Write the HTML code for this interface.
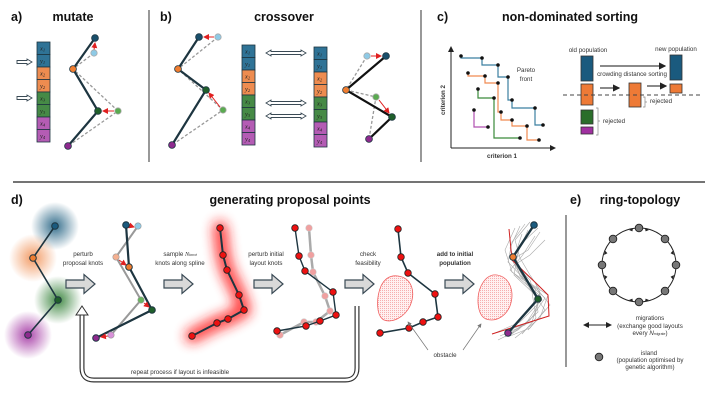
<!DOCTYPE html>
<html><head><meta charset="utf-8"><style>
html,body{margin:0;padding:0;background:#fff;}
svg{display:block;font-family:"Liberation Sans",sans-serif;}
.t{font-weight:bold;font-size:12.5px;fill:#111;}
.s{font-size:6.2px;fill:#333;}
.c{font-family:"Liberation Serif",serif;font-style:italic;font-size:6.5px;fill:#222;}
</style></head><body>
<svg width="714" height="402" viewBox="0 0 714 402" xmlns="http://www.w3.org/2000/svg">
<defs>
<radialGradient id="gb"><stop offset="0" stop-color="#1f5f80" stop-opacity="0.9"/><stop offset="1" stop-color="#1f5f80" stop-opacity="0"/></radialGradient>
<radialGradient id="go"><stop offset="0" stop-color="#f08a4b" stop-opacity="0.85"/><stop offset="1" stop-color="#f08a4b" stop-opacity="0"/></radialGradient>
<radialGradient id="gg"><stop offset="0" stop-color="#2e7d32" stop-opacity="0.9"/><stop offset="1" stop-color="#2e7d32" stop-opacity="0"/></radialGradient>
<radialGradient id="gp"><stop offset="0" stop-color="#a030a0" stop-opacity="0.9"/><stop offset="1" stop-color="#a030a0" stop-opacity="0"/></radialGradient>
<filter id="blur" x="-50%" y="-50%" width="200%" height="200%"><feGaussianBlur stdDeviation="6"/></filter>
<pattern id="dots" width="2" height="2" patternUnits="userSpaceOnUse"><rect width="2" height="2" fill="#fff0f0"/><rect width="0.8" height="0.8" fill="#f28a8a"/></pattern>
<marker id="ar" markerWidth="6" markerHeight="6" refX="5" refY="3" orient="auto"><path d="M0,0 L6,3 L0,6z" fill="#e02020"/></marker>
<marker id="ak" markerWidth="6" markerHeight="6" refX="5" refY="3" orient="auto"><path d="M0,0 L6,3 L0,6z" fill="#222"/></marker>
<marker id="aks" markerWidth="6" markerHeight="6" refX="1" refY="3" orient="auto"><path d="M6,0 L0,3 L6,6z" fill="#222"/></marker>
<marker id="ag" markerWidth="6" markerHeight="6" refX="5" refY="3" orient="auto"><path d="M0,0 L6,3 L0,6z" fill="#777"/></marker>
<g id="strip">
<rect x="0" y="0" width="13" height="12.5" fill="#2f7396" stroke="#1d3540" stroke-width="0.8"/>
<rect x="0" y="12.5" width="13" height="12.5" fill="#2f7396" stroke="#1d3540" stroke-width="0.8"/>
<rect x="0" y="25" width="13" height="12.5" fill="#ee8c50" stroke="#1d3540" stroke-width="0.8"/>
<rect x="0" y="37.5" width="13" height="12.5" fill="#ee8c50" stroke="#1d3540" stroke-width="0.8"/>
<rect x="0" y="50" width="13" height="12.5" fill="#468a46" stroke="#1d3540" stroke-width="0.8"/>
<rect x="0" y="62.5" width="13" height="12.5" fill="#468a46" stroke="#1d3540" stroke-width="0.8"/>
<rect x="0" y="75" width="13" height="12.5" fill="#b45cb4" stroke="#1d3540" stroke-width="0.8"/>
<rect x="0" y="87.5" width="13" height="12.5" fill="#b45cb4" stroke="#1d3540" stroke-width="0.8"/>
<text class="c" x="3" y="8.5">x<tspan font-size="4.5" dy="1">1</tspan></text>
<text class="c" x="3" y="21">y<tspan font-size="4.5" dy="1">1</tspan></text>
<text class="c" x="3" y="33.5">x<tspan font-size="4.5" dy="1">2</tspan></text>
<text class="c" x="3" y="46">y<tspan font-size="4.5" dy="1">2</tspan></text>
<text class="c" x="3" y="58.5">x<tspan font-size="4.5" dy="1">3</tspan></text>
<text class="c" x="3" y="71">y<tspan font-size="4.5" dy="1">3</tspan></text>
<text class="c" x="3" y="83.5">x<tspan font-size="4.5" dy="1">4</tspan></text>
<text class="c" x="3" y="96">y<tspan font-size="4.5" dy="1">4</tspan></text>
</g>
<g id="barr"><path d="M0,-4 H18 V-9.5 L29,0 L18,9.5 V4 H0Z" fill="#d9d9d9" stroke="#3a4a55" stroke-width="1.2"/></g>
<g id="darr"><path d="M0,0 L5,-3 V-1.5 H35 V-3 L40,0 L35,3 V1.5 H5 V3Z" fill="#fff" stroke="#3a4a55" stroke-width="0.9"/></g>
<g id="sarr"><path d="M0,-1.5 H10 V-3 L15,0 L10,3 V1.5 H0Z" fill="#fff" stroke="#3a4a55" stroke-width="0.9"/></g>
</defs>

<line x1="149" y1="10" x2="149" y2="162" stroke="#555" stroke-width="1.2"/>
<line x1="421" y1="10" x2="421" y2="162" stroke="#555" stroke-width="1.2"/>
<line x1="13" y1="182" x2="705" y2="182" stroke="#222" stroke-width="1.2"/>
<line x1="566" y1="215" x2="566" y2="367" stroke="#555" stroke-width="1.2"/>

<!-- a) -->
<text class="t" x="11" y="21">a)</text>
<text class="t" x="73" y="21" text-anchor="middle">mutate</text>
<use href="#strip" x="37" y="42"/>
<g transform="translate(17,62)"><use href="#sarr"/></g>
<g transform="translate(17,98)"><use href="#sarr"/></g>
<polyline points="94,53 73,69 118,111 68,146" fill="none" stroke="#999" stroke-width="1.3" stroke-dasharray="3,2"/>
<polyline points="95,38 73,69 98,111 68,146" fill="none" stroke="#1d3540" stroke-width="2.2"/>
<line x1="94" y1="50" x2="95" y2="43" stroke="#e02020" stroke-width="1" marker-end="url(#ar)"/>
<line x1="114" y1="111" x2="103" y2="111" stroke="#e02020" stroke-width="1" marker-end="url(#ar)"/>
<circle cx="94" cy="53" r="3.2" fill="#8ecae6" stroke="#aaa" stroke-width="0.8"/>
<circle cx="118" cy="111" r="3.2" fill="#5aaa50" stroke="#aaa" stroke-width="0.8"/>
<circle cx="95" cy="38" r="3.4" fill="#1a4f6b" stroke="#1d3540" stroke-width="0.8"/>
<circle cx="73" cy="69" r="3.4" fill="#f07d30" stroke="#1d3540" stroke-width="0.8"/>
<circle cx="98" cy="111" r="3.4" fill="#1f5f2a" stroke="#1d3540" stroke-width="0.8"/>
<circle cx="68" cy="146" r="3.4" fill="#8e2a8e" stroke="#1d3540" stroke-width="0.8"/>

<!-- b) -->
<text class="t" x="160" y="21">b)</text>
<text class="t" x="284" y="21" text-anchor="middle">crossover</text>
<polyline points="218,37 178,69 223,110 172,145" fill="none" stroke="#999" stroke-width="1.3" stroke-dasharray="3,2"/>
<polyline points="199,37 178,69 206,90 172,145" fill="none" stroke="#1d3540" stroke-width="2.2"/>
<line x1="214" y1="37" x2="204" y2="37" stroke="#e02020" stroke-width="1" marker-end="url(#ar)"/>
<line x1="220" y1="107" x2="209" y2="93" stroke="#e02020" stroke-width="1" marker-end="url(#ar)"/>
<circle cx="218" cy="37" r="3.2" fill="#8ecae6" stroke="#aaa" stroke-width="0.8"/>
<circle cx="223" cy="110" r="3.2" fill="#5aaa50" stroke="#aaa" stroke-width="0.8"/>
<circle cx="199" cy="37" r="3.4" fill="#1a4f6b" stroke="#1d3540" stroke-width="0.8"/>
<circle cx="178" cy="69" r="3.4" fill="#f07d30" stroke="#1d3540" stroke-width="0.8"/>
<circle cx="206" cy="90" r="3.4" fill="#1f5f2a" stroke="#1d3540" stroke-width="0.8"/>
<circle cx="172" cy="145" r="3.4" fill="#8e2a8e" stroke="#1d3540" stroke-width="0.8"/>
<use href="#strip" x="242" y="45"/>
<use href="#strip" x="314" y="47"/>
<g transform="translate(266,53)"><use href="#darr"/></g>
<g transform="translate(266,103)"><use href="#darr"/></g>
<g transform="translate(266,116)"><use href="#darr"/></g>
<polyline points="367,56 346,90 376,97 369,139" fill="none" stroke="#999" stroke-width="1.3" stroke-dasharray="3,2"/>
<polyline points="386,56 346,90 392,117 369,139" fill="none" stroke="#111" stroke-width="2.2"/>
<line x1="371" y1="56" x2="381" y2="56" stroke="#e02020" stroke-width="1" marker-end="url(#ar)"/>
<line x1="379" y1="100" x2="389" y2="113" stroke="#e02020" stroke-width="1" marker-end="url(#ar)"/>
<circle cx="367" cy="56" r="3.2" fill="#8ecae6" stroke="#aaa" stroke-width="0.8"/>
<circle cx="376" cy="97" r="3.2" fill="#5aaa50" stroke="#aaa" stroke-width="0.8"/>
<circle cx="386" cy="56" r="3.4" fill="#1a4f6b" stroke="#1d3540" stroke-width="0.8"/>
<circle cx="346" cy="90" r="3.4" fill="#f07d30" stroke="#1d3540" stroke-width="0.8"/>
<circle cx="392" cy="117" r="3.4" fill="#1f5f2a" stroke="#1d3540" stroke-width="0.8"/>
<circle cx="369" cy="139" r="3.4" fill="#8e2a8e" stroke="#1d3540" stroke-width="0.8"/>

<!-- c) -->
<text class="t" x="437" y="21">c)</text>
<text class="t" x="570" y="21" text-anchor="middle">non-dominated sorting</text>
<line x1="451" y1="148" x2="451" y2="47" stroke="#222" stroke-width="1" marker-end="url(#ak)"/>
<line x1="451" y1="148" x2="555" y2="148" stroke="#222" stroke-width="1" marker-end="url(#ak)"/>
<text class="s" x="445" y="100" transform="rotate(-90 445 100)" text-anchor="middle" font-weight="bold">criterion 2</text>
<text class="s" x="502" y="158" text-anchor="middle" font-weight="bold">criterion 1</text>
<polyline points="461,56 461,58 482,58 482,65 498,65 498,77 508,77 508,100 512,100 512,108 535,108 535,125 543,125" fill="none" stroke="#3b7fa0" stroke-width="1.2"/>
<polyline points="468,73 468,76 485,76 485,83 498,83 498,112 501,112 501,120 512,120 512,126 527,126 527,140 539,140" fill="none" stroke="#f08a50" stroke-width="1.2"/>
<polyline points="478,89 478,98 494,98 494,138 520,138" fill="none" stroke="#3a8a3a" stroke-width="1.2"/>
<polyline points="474,110 474,127 488,127" fill="none" stroke="#b050b0" stroke-width="1.2"/>
<g fill="#111">
<circle cx="461" cy="56" r="1.8"/><circle cx="482" cy="58" r="1.8"/><circle cx="498" cy="65" r="1.8"/><circle cx="508" cy="77" r="1.8"/><circle cx="512" cy="100" r="1.8"/><circle cx="535" cy="108" r="1.8"/><circle cx="543" cy="125" r="1.8"/>
<circle cx="468" cy="73" r="1.8"/><circle cx="485" cy="76" r="1.8"/><circle cx="498" cy="83" r="1.8"/><circle cx="501" cy="112" r="1.8"/><circle cx="512" cy="120" r="1.8"/><circle cx="527" cy="126" r="1.8"/><circle cx="539" cy="140" r="1.8"/>
<circle cx="478" cy="89" r="1.8"/><circle cx="494" cy="98" r="1.8"/><circle cx="520" cy="138" r="1.8"/>
<circle cx="474" cy="110" r="1.8"/><circle cx="488" cy="127" r="1.8"/>
</g>
<text class="s" x="526" y="72" text-anchor="middle">Pareto</text>
<text class="s" x="526" y="81" text-anchor="middle">front</text>
<text class="s" x="588" y="52" text-anchor="middle">old population</text>
<text class="s" x="676" y="51" text-anchor="middle">new population</text>
<rect x="581" y="56" width="12" height="25" fill="#1a5a7e" stroke="#333" stroke-width="0.8"/>
<rect x="581" y="84" width="12" height="21" fill="#ee7a36" stroke="#333" stroke-width="0.8"/>
<rect x="581" y="110" width="12" height="14" fill="#2a6e2a" stroke="#333" stroke-width="0.8"/>
<rect x="581" y="127" width="12" height="7" fill="#a030a0" stroke="#333" stroke-width="0.8"/>
<rect x="670" y="55" width="12" height="25" fill="#1a5a7e" stroke="#333" stroke-width="0.8"/>
<rect x="670" y="84" width="12" height="9" fill="#ee7a36" stroke="#333" stroke-width="0.8"/>
<rect x="629" y="83" width="12" height="24" fill="#ee7a36" stroke="#333" stroke-width="0.8"/>
<line x1="600" y1="66" x2="665" y2="66" stroke="#444" stroke-width="1.2" marker-end="url(#ak)"/>
<text class="s" x="632" y="76" text-anchor="middle" font-size="5">crowding distance sorting</text>
<line x1="600" y1="88" x2="619" y2="88" stroke="#444" stroke-width="1.2" marker-end="url(#ak)"/>
<line x1="647" y1="86" x2="666" y2="86" stroke="#444" stroke-width="1.2" marker-end="url(#ak)"/>
<line x1="563" y1="95" x2="700" y2="95" stroke="#444" stroke-width="1" stroke-dasharray="4,3"/>
<path d="M643,97 h2 v10 h-2 M645,102 h2" fill="none" stroke="#888" stroke-width="0.7"/>
<text class="s" x="650" y="103" font-size="5">rejected</text>
<path d="M596,108 h2 v27 h-2 M598,121 h2" fill="none" stroke="#888" stroke-width="0.7"/>
<text class="s" x="603" y="123" font-size="5">rejected</text>

<!-- d) -->
<text class="t" x="11" y="204">d)</text>
<text class="t" x="290" y="204" text-anchor="middle">generating proposal points</text>
<circle cx="55" cy="226" r="24" fill="url(#gb)"/>
<circle cx="33" cy="258" r="24" fill="url(#go)"/>
<circle cx="58" cy="300" r="24" fill="url(#gg)"/>
<circle cx="28" cy="335" r="24" fill="url(#gp)"/>
<polyline points="55,226 33,258 58,300 28,335" fill="none" stroke="#1d3540" stroke-width="1.6"/>
<circle cx="55" cy="226" r="3.3" fill="#1a5a7e" stroke="#1d3540"/>
<circle cx="33" cy="258" r="3.3" fill="#f07d30" stroke="#1d3540"/>
<circle cx="58" cy="300" r="3.3" fill="#1f5f2a" stroke="#1d3540"/>
<circle cx="28" cy="335" r="3.3" fill="#8e2a8e" stroke="#1d3540"/>

<text class="s" x="83" y="256" text-anchor="middle">perturb</text>
<text class="s" x="83" y="265" text-anchor="middle">proposal knots</text>
<g transform="translate(66,284)"><use href="#barr"/></g>

<polyline points="138,226 116,257 141,300 111,335" fill="none" stroke="#999" stroke-width="2"/>
<polyline points="126,225 129,267 152,310 96,338" fill="none" stroke="#1d3540" stroke-width="2.2"/>
<line x1="131" y1="226" x2="134" y2="227" stroke="#e02020" stroke-width="1" marker-end="url(#ar)"/>
<line x1="119" y1="260" x2="126" y2="265" stroke="#e02020" stroke-width="1" marker-end="url(#ar)"/>
<line x1="144" y1="303" x2="149" y2="307" stroke="#e02020" stroke-width="1" marker-end="url(#ar)"/>
<line x1="108" y1="336" x2="101" y2="337" stroke="#e02020" stroke-width="1" marker-end="url(#ar)"/>
<circle cx="138" cy="226" r="3.2" fill="#8ecae6" stroke="#999" stroke-width="0.6"/>
<circle cx="116" cy="257" r="3.2" fill="#f5b090" stroke="#999" stroke-width="0.6"/>
<circle cx="141" cy="300" r="3.2" fill="#6ab460" stroke="#999" stroke-width="0.6"/>
<circle cx="111" cy="335" r="3.2" fill="#d890d8" stroke="#999" stroke-width="0.6"/>
<circle cx="126" cy="225" r="3.3" fill="#1a5a7e" stroke="#1d3540"/>
<circle cx="129" cy="267" r="3.3" fill="#f07d30" stroke="#1d3540"/>
<circle cx="152" cy="310" r="3.3" fill="#1f5f2a" stroke="#1d3540"/>
<circle cx="96" cy="338" r="3.3" fill="#8e2a8e" stroke="#1d3540"/>

<text class="s" x="180" y="256" text-anchor="middle">sample <tspan font-family="Liberation Serif" font-style="italic">N</tspan><tspan font-size="4" font-style="italic">knot</tspan></text>
<text class="s" x="180" y="265" text-anchor="middle">knots along spline</text>
<g transform="translate(164,284)"><use href="#barr"/></g>

<polyline points="220,228 223,255 227,270 239,295 244,310 228,319 217,323 192,336" fill="none" stroke="#ff1a1a" stroke-width="14" stroke-linejoin="round" stroke-linecap="round" filter="url(#blur)" opacity="0.85"/>
<polyline points="220,228 223,255 227,270 239,295 244,310 228,319 217,323 192,336" fill="none" stroke="#1d3540" stroke-width="2"/>
<g fill="#ee1111" stroke="#222" stroke-width="0.8">
<circle cx="220" cy="228" r="3.3"/><circle cx="223" cy="255" r="3.3"/><circle cx="227" cy="270" r="3.3"/><circle cx="239" cy="295" r="3.3"/><circle cx="244" cy="310" r="3.3"/><circle cx="228" cy="319" r="3.3"/><circle cx="217" cy="323" r="3.3"/><circle cx="192" cy="336" r="3.3"/>
</g>

<text class="s" x="266" y="256" text-anchor="middle">perturb initial</text>
<text class="s" x="266" y="265" text-anchor="middle">layout knots</text>
<g transform="translate(254,284)"><use href="#barr"/></g>

<polyline points="309,228 311,255 313,272 325,296 330,311 316,322 304,322 280,335" fill="none" stroke="#aaa" stroke-width="2.5"/>
<g fill="#f0a0a0" stroke="#ccc" stroke-width="0.6">
<circle cx="309" cy="228" r="3.3"/><circle cx="311" cy="255" r="3.3"/><circle cx="313" cy="272" r="3.3"/><circle cx="325" cy="296" r="3.3"/><circle cx="330" cy="311" r="3.3"/><circle cx="316" cy="322" r="3.3"/><circle cx="304" cy="322" r="3.3"/><circle cx="280" cy="335" r="3.3"/>
</g>
<polyline points="295,228 299,256 305,271 333,292 336,315 320,321 306,326 277,331" fill="none" stroke="#1d3540" stroke-width="1.4"/>
<g fill="#ee1111" stroke="#222" stroke-width="0.8">
<circle cx="295" cy="228" r="3.3"/><circle cx="299" cy="256" r="3.3"/><circle cx="305" cy="271" r="3.3"/><circle cx="333" cy="292" r="3.3"/><circle cx="336" cy="315" r="3.3"/><circle cx="320" cy="321" r="3.3"/><circle cx="306" cy="326" r="3.3"/><circle cx="277" cy="331" r="3.3"/>
</g>

<text class="s" x="368" y="256" text-anchor="middle">check</text>
<text class="s" x="368" y="265" text-anchor="middle">feasibility</text>
<g transform="translate(345,284)"><use href="#barr"/></g>

<path d="M398,276 C412,278 416,292 410,306 C404,318 392,323 384,320 C376,316 376,298 381,286 C385,278 391,275 398,276Z" fill="url(#dots)" stroke="#f06060" stroke-width="0.8"/>
<polyline points="398,229 401,257 408,273 435,294 438,317 423,322 409,328 380,333" fill="none" stroke="#1d3540" stroke-width="1.6"/>
<g fill="#ee1111" stroke="#222" stroke-width="0.8">
<circle cx="398" cy="229" r="3.3"/><circle cx="401" cy="257" r="3.3"/><circle cx="408" cy="273" r="3.3"/><circle cx="435" cy="294" r="3.3"/><circle cx="438" cy="317" r="3.3"/><circle cx="423" cy="322" r="3.3"/><circle cx="409" cy="328" r="3.3"/><circle cx="380" cy="333" r="3.3"/>
</g>
<line x1="428" y1="350" x2="408" y2="322" stroke="#777" stroke-width="0.7" marker-end="url(#ag)"/>
<line x1="463" y1="350" x2="481" y2="324" stroke="#777" stroke-width="0.7" marker-end="url(#ag)"/>
<text class="s" x="445" y="357" text-anchor="middle">obstacle</text>

<text class="s" x="455" y="256" text-anchor="middle" font-weight="bold">add to initial</text>
<text class="s" x="455" y="265" text-anchor="middle" font-weight="bold">population</text>
<g transform="translate(445,284)"><use href="#barr"/></g>

<path d="M497,275 C510,277 515,292 510,306 C505,318 494,322 486,319 C477,315 476,297 481,286 C485,278 490,274 497,275Z" fill="url(#dots)" stroke="#f06060" stroke-width="0.8"/>
<g fill="none" stroke="#aaa" stroke-width="0.6">
<polyline points="530,222 515,240 520,258 530,275 540,290 535,315 512,334"/>
<polyline points="525,224 512,242 508,262 525,280 545,298 530,320 505,337"/>
<polyline points="538,228 520,245 515,265 535,282 542,300 520,322 495,333"/>
<polyline points="520,226 510,248 518,268 530,280 538,305 525,325 500,336"/>
<polyline points="540,232 528,250 512,260 522,278 548,295 540,318 515,338"/>
<polyline points="515,228 505,250 512,272 535,288 538,312 518,330 498,340"/>
<polyline points="535,236 522,256 510,270 528,286 545,310 530,328 510,336"/>
<polyline points="528,230 518,252 514,275 532,292 536,318 522,334"/>
<polyline points="545,240 530,255 516,264 526,283 540,296 532,322 508,330"/>
<polyline points="522,234 514,258 520,276 538,290 550,305 528,330"/>
</g>
<polyline points="509,229 512,260 540,287 548,295 549,316 492,334" fill="none" stroke="#d02020" stroke-width="1"/>
<polyline points="534,225 513,257 538,299 508,333" fill="none" stroke="#1d3540" stroke-width="2.4"/>
<circle cx="534" cy="225" r="3.3" fill="#1a5a7e" stroke="#1d3540"/>
<circle cx="513" cy="257" r="3.3" fill="#f07d30" stroke="#1d3540"/>
<circle cx="538" cy="299" r="3.3" fill="#1f5f2a" stroke="#1d3540"/>
<circle cx="508" cy="333" r="3.3" fill="#8e2a8e" stroke="#1d3540"/>

<!-- feedback loop -->
<path d="M357,305 V368 Q357,380 345,380 H94 Q82,380 82,368 V314" fill="none" stroke="#333" stroke-width="5"/>
<path d="M357,305 V368 Q357,380 345,380 H94 Q82,380 82,368 V314" fill="none" stroke="#fff" stroke-width="2.6"/>
<path d="M76,315 L82,306 L88,315Z" fill="#fff" stroke="#333" stroke-width="1"/>
<rect x="354" y="303" width="6" height="3" fill="#fff"/>
<text class="s" x="180" y="374" text-anchor="middle">repeat process if layout is infeasible</text>

<!-- e) -->
<text class="t" x="570" y="204">e)</text>
<text class="t" x="640" y="204" text-anchor="middle">ring-topology</text>
<circle cx="639" cy="265" r="37" fill="none" stroke="#222" stroke-width="1"/>
<g fill="#222">
<path d="M629,230 l4,-1.8 l-0.6,3.2z"/><path d="M649,230 l-4,-1.8 l0.6,3.2z"/>
<path d="M604,255 l1.2,-4.2 l2.2,2.4z"/><path d="M604,275 l1.2,4.2 l2.2,-2.4z"/>
<path d="M674,255 l-1.2,-4.2 l-2.2,2.4z"/><path d="M674,275 l-1.2,4.2 l-2.2,-2.4z"/>
<path d="M629,300 l4,1.8 l-0.6,-3.2z"/><path d="M649,300 l-4,1.8 l0.6,-3.2z"/>
</g>
<g fill="#777" stroke="#222" stroke-width="0.9">
<circle cx="639" cy="228" r="3.8"/><circle cx="613" cy="239" r="3.8"/><circle cx="602" cy="265" r="3.8"/><circle cx="613" cy="291" r="3.8"/><circle cx="639" cy="302" r="3.8"/><circle cx="665" cy="291" r="3.8"/><circle cx="676" cy="265" r="3.8"/><circle cx="665" cy="239" r="3.8"/>
</g>
<line x1="584" y1="325" x2="611" y2="325" stroke="#222" stroke-width="1" marker-end="url(#ak)" marker-start="url(#aks)"/>
<text class="s" x="650" y="320" text-anchor="middle">migrations</text>
<text class="s" x="650" y="328" text-anchor="middle" font-size="4.8">(exchange good layouts</text>
<text class="s" x="650" y="335" text-anchor="middle" font-size="4.8">every <tspan font-style="italic">N</tspan><tspan font-size="3.5">migrate</tspan>)</text>
<circle cx="599" cy="357" r="3.8" fill="#777" stroke="#222" stroke-width="0.9"/>
<text class="s" x="649" y="355" text-anchor="middle">island</text>
<text class="s" x="650" y="362" text-anchor="middle" font-size="4.8">(population optimised by</text>
<text class="s" x="650" y="369" text-anchor="middle" font-size="4.8">genetic algorithm)</text>
</svg>
</body></html>
